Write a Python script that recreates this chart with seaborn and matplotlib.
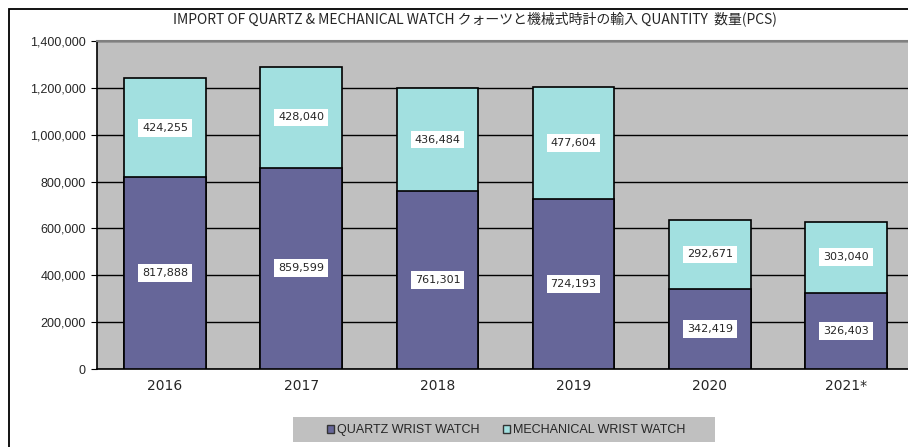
import pandas as pd
import matplotlib.pyplot as plt
import seaborn as sns
from matplotlib.patches import Patch, Rectangle

years = ["2016", "2017", "2018", "2019", "2020", "2021*"]
quartz = [817888, 859599, 761301, 724193, 342419, 326403]
mechanical = [424255, 428040, 436484, 477604, 292671, 303040]
yticks = [0, 200000, 400000, 600000, 800000, 1000000, 1200000, 1400000]

df = pd.DataFrame({"year": years, "quartz": quartz, "mechanical": mechanical})
df["total"] = df["quartz"] + df["mechanical"]

sns.set_style("white")
plt.rcParams['font.family'] = ['Noto Sans CJK JP', 'DejaVu Sans']

c_quartz = "#666699"
c_mech = "#A2E0E0"

fig = plt.figure(figsize=(9.08, 4.47), dpi=100)
# outer chart frame (cropped on the right and bottom)
fig.patches.append(Rectangle((8.5 / 908, -0.1), 1.2, 1 - 8.5 / 447 + 0.1,
                             transform=fig.transFigure, fill=False,
                             edgecolor="black", linewidth=1.3))
# legend background box
fig.patches.append(Rectangle((293 / 908, 1 - 442 / 447), 422 / 908, 25 / 447,
                             transform=fig.transFigure, facecolor="#C0C0C0",
                             edgecolor="none"))

ax = fig.add_axes([97 / 908, 1 - 369 / 447, 817 / 908, 328 / 447])
ax.set_facecolor("#C0C0C0")

sns.barplot(data=df, x="year", y="total", color=c_mech, width=0.6,
            edgecolor="black", linewidth=1.2, saturation=1, ax=ax, zorder=3)
sns.barplot(data=df, x="year", y="quartz", color=c_quartz, width=0.6,
            edgecolor="black", linewidth=1.2, saturation=1, ax=ax, zorder=3)

ax.set_ylim(0, 1400000)
ax.set_xlim(-0.5, 5.5)
ax.set_yticks(yticks)
ax.set_yticklabels([f"{v:,}" for v in yticks], fontsize=9, family="Liberation Sans")
ax.set_xticks(range(len(years)))
ax.set_xticklabels(years, fontsize=10, family="DejaVu Sans")
ax.set_xticks([i + 0.5 for i in range(len(years) - 1)], minor=True)
ax.tick_params(axis="x", which="major", length=0, pad=7)
ax.tick_params(axis="x", which="minor", direction="in", length=3, color="black")
ax.tick_params(axis="y", length=4, direction="out", color="black", pad=4, left=True)
ax.grid(axis="y", color="black", linewidth=1, zorder=1)
ax.set_axisbelow(True)
ax.set_xlabel("")
ax.set_ylabel("")

for s in ["left", "bottom"]:
    ax.spines[s].set_color("black")
    ax.spines[s].set_linewidth(1.2)
ax.spines["top"].set_color("#808080")
ax.spines["top"].set_linewidth(1.5)
ax.spines["right"].set_visible(False)

box = dict(boxstyle="square,pad=0.35", facecolor="white", edgecolor="none")
for i in range(len(years)):
    ax.text(i, quartz[i] / 2, f"{quartz[i]:,}", ha="center", va="center",
            fontsize=8, bbox=box, zorder=5, family="DejaVu Sans")
    ax.text(i, quartz[i] + mechanical[i] / 2, f"{mechanical[i]:,}", ha="center",
            va="center", fontsize=8, bbox=box, zorder=5, family="DejaVu Sans")

fig.text(475 / 908, 1 - 19 / 447,
         "IMPORT OF QUARTZ & MECHANICAL WATCH クォーツと機械式時計の輸入 QUANTITY  数量(PCS)",
         ha="center", va="center", fontsize=10)

handles = [Patch(facecolor=c_quartz, edgecolor="#333333", label="QUARTZ WRIST WATCH"),
           Patch(facecolor=c_mech, edgecolor="#333333", label="MECHANICAL WRIST WATCH")]
leg = fig.legend(handles=handles, loc="center", bbox_to_anchor=(506 / 908, 1 - 430 / 447),
                 ncol=2, frameon=False,
                 handlelength=0.6, handleheight=0.6, handletextpad=0.2,
                 columnspacing=1.9, borderpad=0.3, borderaxespad=0,
                 prop={"family": "Liberation Sans", "size": 9})

plt.savefig("out.png", dpi=100)
